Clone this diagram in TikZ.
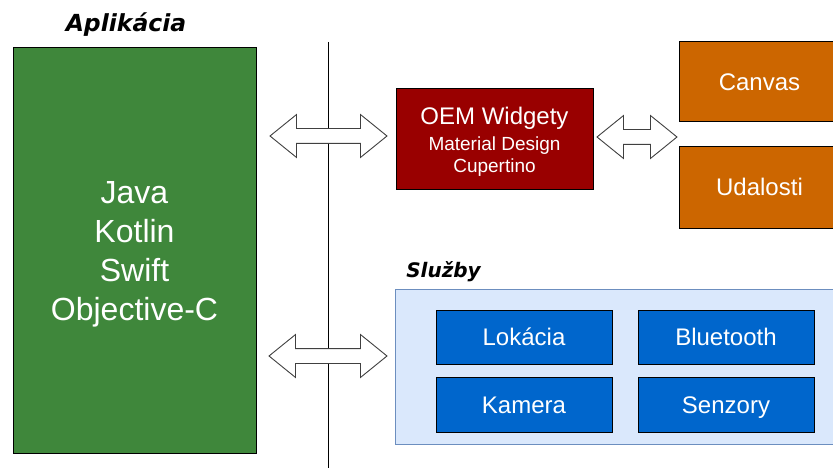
\documentclass[tikz,border=0pt]{standalone}
\usepackage{fontspec}
\setmainfont{Liberation Sans}
\newfontfamily\labelfont{DejaVu Sans}[BoldItalicFont={DejaVu Sans Bold Oblique}]
\usetikzlibrary{shapes.arrows}
\definecolor{zelena}{HTML}{3F873B}
\definecolor{cervena}{HTML}{990000}
\definecolor{oranzova}{HTML}{CC6600}
\definecolor{modra}{HTML}{0066CC}
\definecolor{svetlomodra}{HTML}{DAE8FC}
\definecolor{ramik}{HTML}{6C8EBF}

\begin{document}
\begin{tikzpicture}[x=1pt,y=-1pt]
    \tikzset{pbox/.style={draw,rectangle,inner sep=0pt,line width=1pt},text=white,align=center}
    \tikzstyle{jeden}=[font=\fontsize{24}{28}\selectfont,text height=17pt,text depth=0pt]
    \tikzstyle{sipka}=[double arrow,draw=black!75,fill=white,line width=0.9pt,inner xsep=0pt,inner ysep=7pt,double arrow head extend=14pt,double arrow tip angle=78]
    \tikzstyle{nadpis}=[text=black,font=\labelfont\bfseries\itshape,anchor=base]
    \useasboundingbox (0,0) rectangle (833,468);

    \node[nadpis,font=\labelfont\bfseries\itshape\fontsize{23.5}{28}\selectfont] (TAPP) at (126,32) {Aplikácia};
    \node[pbox,fill=zelena,minimum width=243,minimum height=405,font=\fontsize{32}{39}\selectfont,text depth=0pt] (APP) at (134.5,250.5) {Java\\Kotlin\\Swift\\Objective-C};
    \draw[line width=0.9pt] (328.5,42)--(328.5,468);

    \node[pbox,fill=cervena,minimum width=197,minimum height=101,font=\fontsize{19}{22}\selectfont,text depth=-1pt] (OEM) at (494.5,139.5) {{\fontsize{24}{24}\selectfont OEM Widgety}\\[4pt]Material Design\\Cupertino};
    \node[pbox,jeden,fill=oranzova,minimum width=161,minimum height=80] (CAN) at (759.5,82) {Canvas};
    \node[pbox,jeden,fill=oranzova,minimum width=161,minimum height=81] (UDA) at (759.5,187.5) {Udalosti};

    \node[nadpis,font=\labelfont\bfseries\itshape\fontsize{20}{24}\selectfont] (TSRV) at (443.5,277.5) {Služby};
    \node[pbox,draw=ramik,fill=svetlomodra,minimum width=460,minimum height=155] (SRV) at (625,366.5) {};
    \node[pbox,jeden,fill=modra,minimum width=176,minimum height=54] (LOK) at (524,337) {Lokácia};
    \node[pbox,jeden,fill=modra,minimum width=176,minimum height=54] (BLU) at (726,337) {Bluetooth};
    \node[pbox,jeden,fill=modra,minimum width=176,minimum height=55] (KAM) at (524,404.5) {Kamera};
    \node[pbox,jeden,fill=modra,minimum width=176,minimum height=55] (SEN) at (726,404.5) {Senzory};

    \node[sipka,minimum height=117] (A1) at (328.5,136) {};
    \node[sipka,minimum height=118] (A2) at (328,356) {};
    \node[sipka,minimum height=80] (A3) at (637,137) {};
\end{tikzpicture}
\end{document}
